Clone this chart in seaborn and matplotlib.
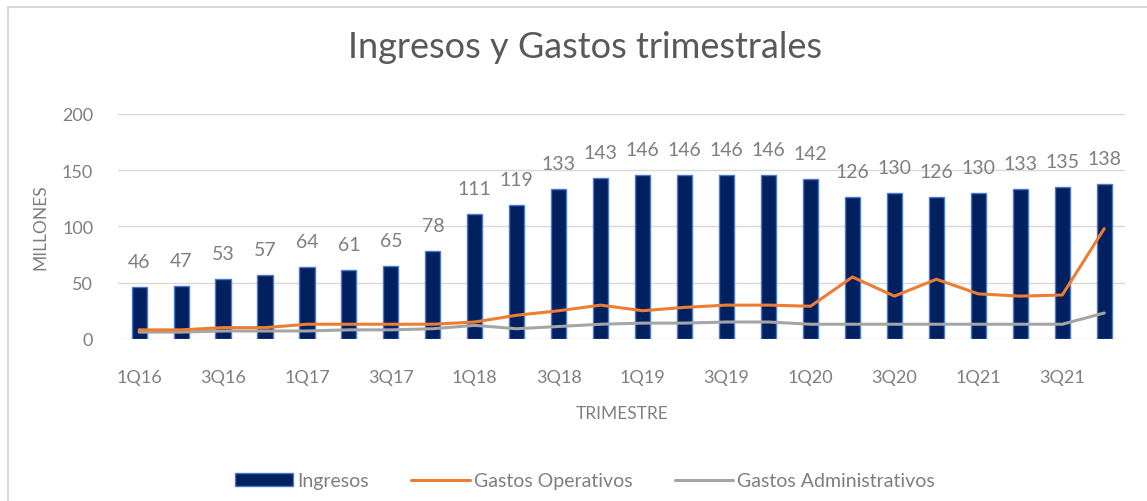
import matplotlib
matplotlib.use("Agg")
import matplotlib.pyplot as plt
import seaborn as sns
import pandas as pd
from matplotlib.patches import Rectangle, Patch
from matplotlib.lines import Line2D

# data
trimestres = ["1Q16", "2Q16", "3Q16", "4Q16", "1Q17", "2Q17", "3Q17", "4Q17",
              "1Q18", "2Q18", "3Q18", "4Q18", "1Q19", "2Q19", "3Q19", "4Q19",
              "1Q20", "2Q20", "3Q20", "4Q20", "1Q21", "2Q21", "3Q21", "4Q21"]
ingresos = [46, 47, 53, 57, 64, 61, 65, 78, 111, 119, 133, 143,
            146, 146, 146, 146, 142, 126, 130, 126, 130, 133, 135, 138]
gastos_operativos = [8, 8, 10, 10, 13, 13, 13, 13, 15, 21, 25, 30,
                     25, 28, 30, 30, 29, 55, 38, 53, 40, 38, 39, 98]
gastos_admin = [6, 6, 7, 7, 7, 8, 8, 9, 12, 9, 11, 13,
                14, 14, 15, 15, 13, 13, 13, 13, 13, 13, 13, 23]

df = pd.DataFrame({"trimestre": trimestres, "ingresos": ingresos,
                   "operativos": gastos_operativos, "admin": gastos_admin})

sns.set_style("white")
plt.rcParams["font.family"] = ["Lato", "DejaVu Sans"]

gris = "#7f7f7f"
azul = "#002060"
naranja = "#ed7d31"
gris_linea = "#a5a5a5"

fig = plt.figure(figsize=(11.47, 5.02), dpi=100)
ax = fig.add_axes([0.103, 0.323, 0.878, 0.448])

sns.barplot(ax=ax, data=df, x="trimestre", y="ingresos", color=azul,
            width=0.36, edgecolor="#4a7bd0", linewidth=1, saturation=1)
xs = list(range(len(trimestres)))
sns.lineplot(ax=ax, x=xs, y=gastos_admin, color=gris_linea, linewidth=2.2)
sns.lineplot(ax=ax, x=xs, y=gastos_operativos, color=naranja, linewidth=2.2)

for i, v in enumerate(ingresos):
    ax.text(i, v + 15, str(v), ha="center", va="bottom", fontsize=14, color=gris)

ax.set_ylim(0, 200)
ax.set_xlim(-0.5, len(trimestres) - 0.5)
ax.set_yticks([0, 50, 100, 150, 200])
ax.set_xticks(xs[::2])
ax.set_xticklabels(trimestres[::2])
ax.tick_params(axis="both", length=0, labelsize=13, colors=gris)
ax.tick_params(axis="x", pad=22)
ax.tick_params(axis="y", pad=18)
ax.yaxis.grid(True, color="#d9d9d9", linewidth=1)
ax.set_axisbelow(True)
for s in ax.spines.values():
    s.set_visible(False)

ax.set_xlabel("TRIMESTRE", fontsize=12.5, color=gris, labelpad=14)
ax.set_ylabel("MILLONES", fontsize=12.5, color=gris, labelpad=10)
fig.text(0.51, 0.905, "Ingresos y Gastos trimestrales", ha="center", va="center",
         fontsize=26, color="#595959")

handles = [Patch(facecolor=azul, edgecolor="#4a7bd0"),
           Line2D([0], [0], color=naranja, linewidth=2.2),
           Line2D([0], [0], color=gris_linea, linewidth=2.2)]
fig.legend(handles, ["Ingresos", "Gastos Operativos", "Gastos Administrativos"],
           loc="center", bbox_to_anchor=(0.51, 0.04), ncol=3, frameon=False,
           fontsize=14, labelcolor=gris, handlelength=3.0, handletextpad=0.2,
           columnspacing=2.2)

fig.patches.append(Rectangle((0.007, -0.05), 1.1, 1.034, transform=fig.transFigure,
                             fill=False, edgecolor="#d9d9d9", linewidth=1.5))

fig.savefig("out.png", dpi=100)
